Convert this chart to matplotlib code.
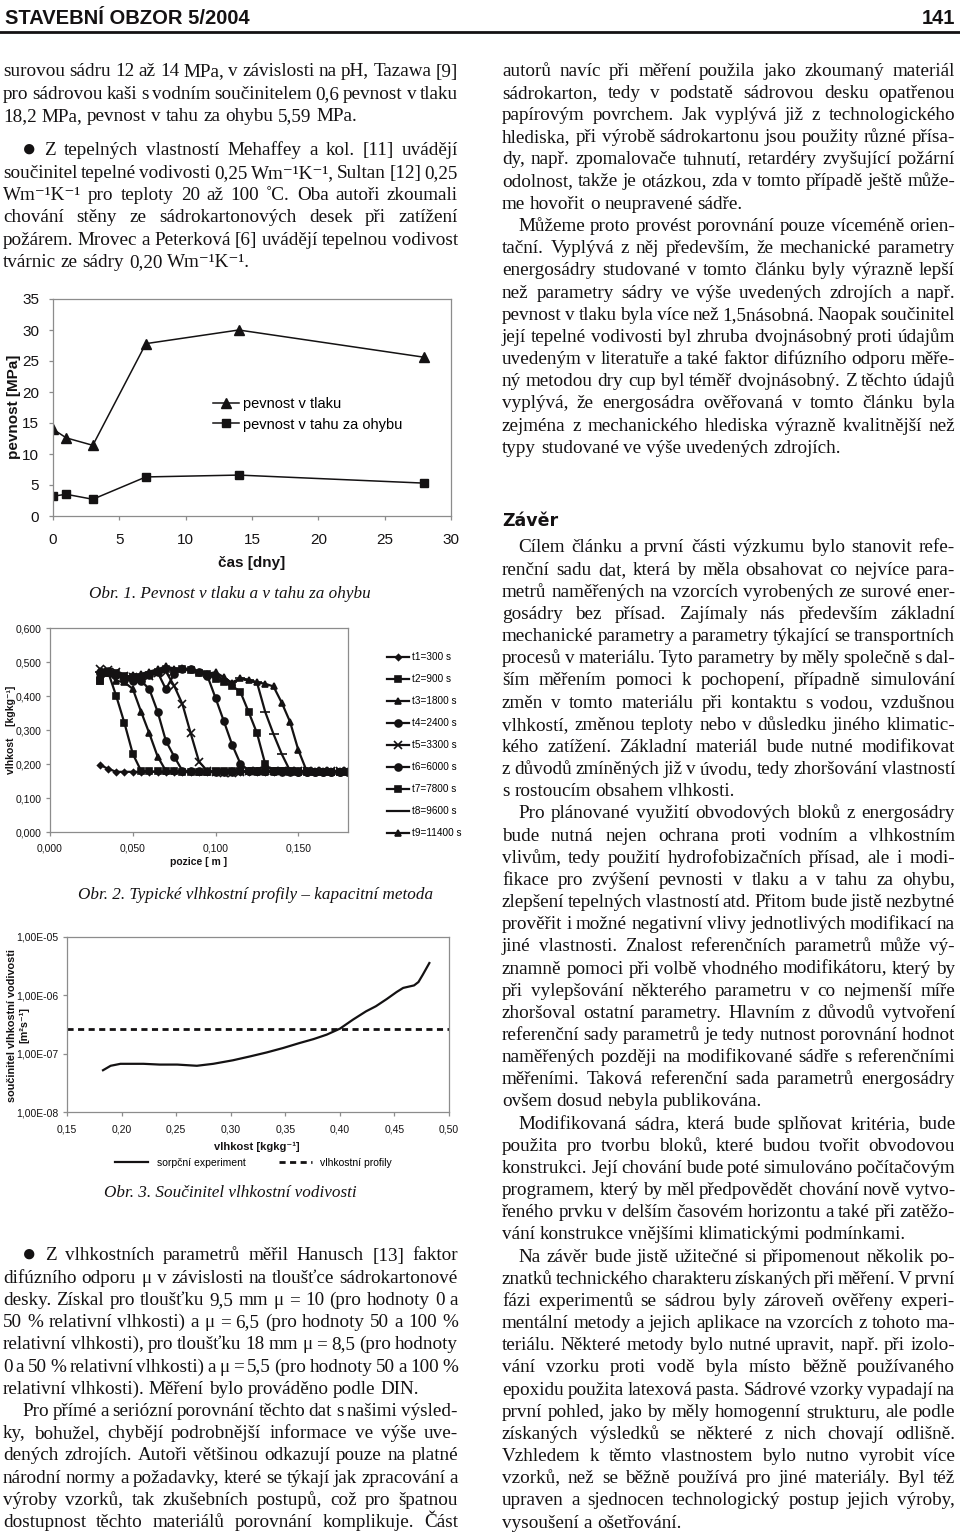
import matplotlib
matplotlib.use("Agg")
import matplotlib.pyplot as plt
from matplotlib.lines import Line2D

W, H = 960, 1535
INK = "#141213"
FRAME = "#8c8c8c"
SERIF = ["Liberation Serif", "DejaVu Serif"]
SANS = ["Liberation Sans", "DejaVu Sans"]

# Obr. 1 - pevnost
cas_dny = [0, 1, 3, 7, 14, 28]
pevnost_tlak = [14.0, 12.6, 11.4, 27.8, 30.0, 25.6]
pevnost_ohyb = [3.2, 3.5, 2.7, 6.3, 6.6, 5.3]

# Obr. 2 - vlhkostni profily
pozice = [0.030, 0.035, 0.040, 0.045, 0.050, 0.055, 0.060, 0.065, 0.070, 0.075,
          0.080, 0.085, 0.090, 0.095, 0.100, 0.105, 0.110, 0.115, 0.120, 0.125,
          0.130, 0.135, 0.140, 0.145, 0.150, 0.155, 0.160, 0.165, 0.170, 0.175, 0.180]
profil_t1 = [0.198, 0.186, 0.177, 0.177, 0.177, 0.177, 0.177, 0.177, 0.177, 0.177,
             0.177, 0.177, 0.177, 0.177, 0.177, 0.177, 0.177, 0.177, 0.177, 0.177,
             0.177, 0.177, 0.177, 0.177, 0.177, 0.177, 0.177, 0.177, 0.177, 0.177, 0.177]
profil_t2 = [0.443, 0.472, 0.400, 0.320, 0.230, 0.180, 0.178, 0.178, 0.178, 0.178,
             0.177, 0.177, 0.177, 0.177, 0.178, 0.178, 0.178, 0.178, 0.178, 0.178,
             0.178, 0.178, 0.178, 0.177, 0.177, 0.177, 0.177, 0.177, 0.177, 0.177, 0.177]
profil_t3 = [0.465, 0.468, 0.445, 0.440, 0.421, 0.354, 0.290, 0.222, 0.180, 0.178,
             0.178, 0.178, 0.177, 0.176, 0.176, 0.177, 0.178, 0.178, 0.178, 0.177,
             0.177, 0.177, 0.178, 0.178, 0.178, 0.178, 0.178, 0.178, 0.178, 0.178, 0.178]
profil_t4 = [0.470, 0.475, 0.462, 0.455, 0.450, 0.445, 0.420, 0.354, 0.268, 0.222,
             0.180, 0.178, 0.178, 0.178, 0.177, 0.177, 0.177, 0.178, 0.178, 0.178,
             0.178, 0.178, 0.178, 0.178, 0.177, 0.177, 0.177, 0.177, 0.177, 0.177, 0.177]
profil_t5 = [0.480, 0.476, 0.470, 0.458, 0.455, 0.452, 0.460, 0.468, 0.472, 0.430,
             0.376, 0.290, 0.207, 0.180, 0.176, 0.175, 0.175, 0.176, 0.180, 0.180,
             0.180, 0.180, 0.180, 0.180, 0.180, 0.180, 0.180, 0.180, 0.180, 0.180, 0.180]
profil_t6 = [0.468, 0.472, 0.465, 0.448, 0.445, 0.455, 0.462, 0.470, 0.420, 0.465,
             0.478, 0.480, 0.470, 0.460, 0.394, 0.326, 0.257, 0.201, 0.180, 0.178,
             0.178, 0.178, 0.177, 0.177, 0.177, 0.177, 0.177, 0.177, 0.177, 0.177, 0.177]
profil_t7 = [0.445, 0.470, 0.468, 0.460, 0.455, 0.450, 0.462, 0.472, 0.480, 0.475,
             0.478, 0.476, 0.468, 0.465, 0.450, 0.440, 0.430, 0.412, 0.353, 0.291,
             0.200, 0.178, 0.178, 0.178, 0.178, 0.178, 0.177, 0.177, 0.177, 0.177, 0.177]
profil_t8 = [0.470, 0.472, 0.465, 0.455, 0.458, 0.462, 0.468, 0.475, 0.482, 0.478,
             0.480, 0.476, 0.470, 0.466, 0.460, 0.448, 0.440, 0.452, 0.448, 0.440,
             0.353, 0.288, 0.229, 0.180, 0.178, 0.178, 0.178, 0.178, 0.178, 0.178, 0.178]
profil_t9 = [0.462, 0.468, 0.462, 0.455, 0.462, 0.465, 0.472, 0.478, 0.488, 0.480,
             0.482, 0.478, 0.470, 0.465, 0.470, 0.455, 0.438, 0.452, 0.446, 0.440,
             0.436, 0.428, 0.380, 0.324, 0.241, 0.180, 0.177, 0.177, 0.177, 0.177, 0.177]
profily = [profil_t1, profil_t2, profil_t3, profil_t4, profil_t5,
           profil_t6, profil_t7, profil_t8, profil_t9]
profil_labels = ["t1=300 s", "t2=900 s", "t3=1800 s", "t4=2400 s", "t5=3300 s",
                 "t6=6000 s", "t7=7800 s", "t8=9600 s", "t9=11400 s"]
profil_markers = ["D", "s", "^", "o", "x", "o", "s", "_", "^"]
profil_msize = [3, 5, 5, 5, 6, 5, 5, 7, 5]

# Obr. 3 - soucinitel vlhkostni vodivosti
vlhkost = [0.183, 0.190, 0.199, 0.220, 0.235, 0.251, 0.269, 0.284, 0.302, 0.318,
           0.333, 0.348, 0.363, 0.376, 0.388, 0.400, 0.412, 0.424, 0.433, 0.443,
           0.452, 0.458, 0.468, 0.472, 0.476, 0.482]
vodivost = [5.2e-8, 6.2e-8, 6.7e-8, 6.7e-8, 6.5e-8, 6.5e-8, 6.2e-8, 6.7e-8, 7.7e-8, 9.0e-8,
            1.05e-7, 1.25e-7, 1.52e-7, 1.78e-7, 2.12e-7, 2.68e-7, 3.83e-7, 5.32e-7, 6.5e-7, 8.65e-7,
            1.14e-6, 1.34e-6, 1.48e-6, 1.69e-6, 2.26e-6, 3.58e-6]
vodivost_profily = 2.68e-7

# page text
left_top = [
    dict(indent=False, lines=[
        "surovou sádru 12 až 14 MPa, v závislosti na pH, Tazawa [9]",
        "pro sádrovou kaši s vodním součinitelem 0,6 pevnost v tlaku",
        "18,2 MPa, pevnost v tahu za ohybu 5,59 MPa."]),
    dict(skip=12, lines=[
        "● Z tepelných vlastností Mehaffey a kol. [11] uvádějí",
        "součinitel tepelné vodivosti 0,25 Wm⁻¹K⁻¹, Sultan [12] 0,25",
        "Wm⁻¹K⁻¹ pro teploty 20 až 100 ˚C. Oba autoři zkoumali",
        "chování stěny ze sádrokartonových desek při zatížení",
        "požárem. Mrovec a Peterková [6] uvádějí tepelnou vodivost",
        "tvárnic ze sádry 0,20 Wm⁻¹K⁻¹."]),
]
left_bottom = [
    dict(lines=[
        "● Z vlhkostních parametrů měřil Hanusch [13] faktor",
        "difúzního odporu μ v závislosti na tloušťce sádrokartonové",
        "desky. Získal pro tloušťku 9,5 mm μ = 10 (pro hodnoty 0 a",
        "50 % relativní vlhkosti) a μ = 6,5 (pro hodnoty 50 a 100 %",
        "relativní vlhkosti), pro tloušťku 18 mm μ = 8,5 (pro hodnoty",
        "0 a 50 % relativní vlhkosti) a μ = 5,5 (pro hodnoty 50 a 100 %",
        "relativní vlhkosti). Měření bylo prováděno podle DIN."]),
    dict(open=True, lines=[
        "Pro přímé a seriózní porovnání těchto dat s našimi výsled-",
        "ky, bohužel, chybějí podrobnější informace ve výše uve-",
        "dených zdrojích. Autoři většinou odkazují pouze na platné",
        "národní normy a požadavky, které se týkají jak zpracování a",
        "výroby vzorků, tak zkušebních postupů, což pro špatnou",
        "dostupnost těchto materiálů porovnání komplikuje. Část"]),
]
right_top = [
    dict(indent=False, lines=[
        "autorů navíc při měření použila jako zkoumaný materiál",
        "sádrokarton, tedy v podstatě sádrovou desku opatřenou",
        "papírovým povrchem. Jak vyplývá již z technologického",
        "hlediska, při výrobě sádrokartonu jsou použity různé přísa-",
        "dy, např. zpomalovače tuhnutí, retardéry zvyšující požární",
        "odolnost, takže je otázkou, zda v tomto případě ještě může-",
        "me hovořit o  neupravené sádře."]),
    dict(lines=[
        "Můžeme proto provést porovnání pouze víceméně orien-",
        "tační. Vyplývá z něj především, že mechanické parametry",
        "energosádry studované v tomto článku byly výrazně lepší",
        "než parametry sádry ve výše uvedených zdrojích a např.",
        "pevnost v tlaku byla více než 1,5násobná. Naopak součinitel",
        "její tepelné vodivosti byl zhruba dvojnásobný proti údajům",
        "uvedeným v literatuře a také faktor difúzního odporu měře-",
        "ný metodou dry cup byl téměř dvojnásobný. Z těchto údajů",
        "vyplývá, že energosádra ověřovaná v tomto článku byla",
        "zejména z mechanického hlediska výrazně kvalitnější než",
        "typy studované ve výše uvedených zdrojích."]),
]
right_bottom = [
    dict(lines=[
        "Cílem článku a první části výzkumu bylo stanovit refe-",
        "renční sadu dat, která by měla obsahovat co nejvíce para-",
        "metrů naměřených na vzorcích vyrobených ze surové ener-",
        "gosádry bez přísad. Zajímaly nás především základní",
        "mechanické parametry a parametry týkající se transportních",
        "procesů v materiálu. Tyto parametry by měly společně s dal-",
        "ším měřením pomoci k pochopení, případně simulování",
        "změn v tomto materiálu při kontaktu s vodou, vzdušnou",
        "vlhkostí,  změnou teploty nebo v důsledku jiného klimatic-",
        "kého zatížení. Základní materiál bude nutné modifikovat",
        "z důvodů zmíněných již v úvodu, tedy zhoršování vlastností",
        "s rostoucím obsahem vlhkosti."]),
    dict(lines=[
        "Pro plánované využití obvodových bloků z energosádry",
        "bude nutná nejen ochrana proti vodním a vlhkostním",
        "vlivům, tedy použití hydrofobizačních přísad, ale i modi-",
        "fikace pro zvýšení pevnosti v tlaku a v tahu za ohybu,",
        "zlepšení tepelných vlastností atd. Přitom bude jistě nezbytné",
        "prověřit i možné negativní vlivy jednotlivých modifikací na",
        "jiné vlastnosti. Znalost referenčních parametrů může vý-",
        "znamně pomoci při volbě vhodného modifikátoru, který by",
        "při vylepšování některého parametru v co nejmenší míře",
        "zhoršoval ostatní parametry. Hlavním z důvodů vytvoření",
        "referenční sady parametrů je tedy nutnost porovnání hodnot",
        "naměřených později na modifikované sádře s referenčními",
        "měřeními. Taková referenční sada parametrů energosádry",
        "ovšem dosud nebyla publikována."]),
    dict(lines=[
        "Modifikovaná sádra, která bude splňovat kritéria, bude",
        "použita pro tvorbu bloků, které budou tvořit obvodovou",
        "konstrukci. Její chování bude poté simulováno počítačovým",
        "programem, který by měl předpovědět chování nově vytvo-",
        "řeného prvku v delším časovém horizontu a také při zatěžo-",
        "vání konstrukce vnějšími klimatickými podmínkami."]),
    dict(lines=[
        "Na závěr bude jistě užitečné si připomenout několik po-",
        "znatků technického charakteru získaných při měření. V první",
        "fázi experimentů se sádrou byly zároveň ověřeny experi-",
        "mentální metody a jejich aplikace na vzorcích z tohoto ma-",
        "teriálu. Některé metody bylo nutné upravit, např. při izolo-",
        "vání vzorku proti vodě byla místo běžně používaného",
        "epoxidu použita latexová pasta. Sádrové vzorky vypadají na",
        "první pohled, jako by měly homogenní strukturu, ale podle",
        "získaných výsledků se některé z nich chovají odlišně.",
        "Vzhledem k těmto vlastnostem bylo nutno vyrobit více",
        "vzorků, než se běžně používá pro jiné materiály. Byl též",
        "upraven a sjednocen technologický postup jejich výroby,",
        "vysoušení a ošetřování."]),
]

fig = plt.figure(figsize=(W / 100, H / 100), dpi=100)
renderer = fig.canvas.get_renderer()


def px_axes(l, t, r, b):
    return fig.add_axes([l / W, 1 - b / H, (r - l) / W, (b - t) / H])


def ptext(x, y, s, **kw):
    kw.setdefault("color", INK)
    return fig.text(x / W, 1 - y / H, s, **kw)


def column(paras, x0, x1, y_first, dy, indent, size=13.8):
    probe = fig.text(0, 0, "x x", fontsize=size, family=SERIF)
    w2 = probe.get_window_extent(renderer).width
    probe.set_text("xx")
    space = w2 - probe.get_window_extent(renderer).width
    probe.remove()
    y = y_first
    for p in paras:
        y += p.get("skip", 0)
        n = len(p["lines"])
        for i, line in enumerate(p["lines"]):
            left = x0 + (indent if i == 0 and p.get("indent", True) else 0)
            just = i < n - 1 or p.get("open", False)
            words = []
            for w in line.split():
                fs = size * 1.25 if w == "●" else size
                words.append(fig.text(0, 0, w, fontsize=fs, family=SERIF,
                                      color=INK, va="baseline"))
            widths = [t.get_window_extent(renderer).width for t in words]
            avail = x1 - left
            gaps = max(len(words) - 1, 1)
            need = sum(widths) + 0.65 * space * (len(words) - 1)
            s = 1.0
            if need > avail:
                s = avail / need
                for t in words:
                    t.set_fontsize(t.get_fontsize() * s)
                widths = [w * s for w in widths]
            gap = (avail - sum(widths)) / gaps if just else space * s
            x = left
            for t, w in zip(words, widths):
                t.set_position((x / W, 1 - (y + 5.5) / H))
                x += w + gap
            y += dy


# header
ptext(5, 18, "STAVEBNÍ OBZOR 5/2004", family=SANS, weight="bold",
      fontsize=14.5, va="center", ha="left")
ptext(955, 18, "141", family=SANS, weight="bold", fontsize=14.5,
      va="center", ha="right")
fig.add_artist(Line2D([0, 1], [1 - 32 / H, 1 - 32 / H], color=INK, lw=2.0,
                      transform=fig.transFigure))

# body text
column(left_top, 3, 458, 71, 22.3, 19)
column(left_bottom, 3, 458, 1255, 22.2, 19)
column(right_top, 502, 955, 70, 22.2, 16)
column(right_bottom, 502, 955, 547, 22.16, 16)
ptext(502, 521, "Závěr", family=["DejaVu Sans"], weight="heavy",
      fontsize=12.5, va="center", ha="left")


def frame(ax):
    for sp in ax.spines.values():
        sp.set_color(FRAME)
        sp.set_linewidth(0.9)
    ax.tick_params(colors=FRAME, labelcolor=INK, direction="out", length=3,
                   width=0.9)


# Obr. 1
ax1 = px_axes(53, 299, 451, 516)
ax1.plot(cas_dny, pevnost_tlak, "-^", color=INK, lw=1.1, ms=6.5,
         label="pevnost v tlaku")
ax1.plot(cas_dny, pevnost_ohyb, "-s", color=INK, lw=1.1, ms=6,
         label="pevnost v tahu za ohybu")
ax1.set_xlim(0, 30)
ax1.set_ylim(0, 35)
ax1.set_xticks(range(0, 31, 5))
ax1.set_yticks(range(0, 36, 5))
frame(ax1)
for lab in ax1.get_xticklabels() + ax1.get_yticklabels():
    lab.set_family(SANS)
    lab.set_fontsize(11)
ax1.tick_params(axis="x", pad=9)
ax1.tick_params(axis="y", pad=7)
ax1.legend(loc="upper left", bbox_to_anchor=(213 / W, 1 - 397 / H),
           bbox_transform=fig.transFigure, frameon=False, borderpad=0,
           borderaxespad=0, handlelength=1.75, handletextpad=0.3,
           labelspacing=0.45, prop=dict(family=SANS, size=10.5))
ptext(252, 563, "čas [dny]", family=SANS, weight="bold", fontsize=11,
      ha="center", va="center")
ptext(14, 407, "pevnost [MPa]", family=SANS, weight="bold", fontsize=11,
      ha="center", va="center", rotation=90)
ptext(230, 594, "Obr. 1. Pevnost v tlaku a v tahu za ohybu", family=SERIF,
      style="italic", fontsize=12.3, ha="center", va="center")

# Obr. 2
ax2 = px_axes(50, 628, 348, 832)
for vals, lab, mk, ms in zip(profily, profil_labels, profil_markers, profil_msize):
    ax2.plot(pozice, vals, "-", marker=mk, color=INK, lw=1.6, ms=ms, mew=1.2,
             label=lab)
ax2.set_xlim(0, 0.18)
ax2.set_ylim(0, 0.6)
ax2.set_xticks([0, 0.05, 0.10, 0.15])
ax2.set_xticklabels(["0,000", "0,050", "0,100", "0,150"])
ax2.set_yticks([0, 0.1, 0.2, 0.3, 0.4, 0.5, 0.6])
ax2.set_yticklabels(["0,000", "0,100", "0,200", "0,300", "0,400", "0,500", "0,600"])
frame(ax2)
for lab in ax2.get_xticklabels() + ax2.get_yticklabels():
    lab.set_family(SANS)
    lab.set_fontsize(7.5)
ax2.tick_params(axis="x", pad=5)
ax2.tick_params(axis="y", pad=3)
ax2.legend(loc="upper left", bbox_to_anchor=(387 / W, 1 - 652 / H),
           bbox_transform=fig.transFigure, frameon=False, borderpad=0,
           borderaxespad=0, handlelength=2.2, handletextpad=0.25,
           labelspacing=1.2, prop=dict(family=SANS, size=7.2))
ptext(199, 862, "pozice [ m ]", family=SANS, weight="bold", fontsize=7.5,
      ha="center", va="center")
ptext(11, 730, "vlhkost    [kgkg⁻¹]", family=SANS, weight="bold", fontsize=7.5,
      ha="center", va="center", rotation=90)
ptext(256, 895, "Obr. 2. Typické vlhkostní profily – kapacitní metoda",
      family=SERIF, style="italic", fontsize=12.3, ha="center", va="center")

# Obr. 3
ax3 = px_axes(67, 937, 449, 1112)
ax3.set_yscale("log")
ax3.plot(vlhkost, vodivost, "-", color=INK, lw=1.6, label="sorpční experiment")
ax3.axhline(vodivost_profily, color=INK, lw=2.0, dashes=(2.2, 1.6),
            label="vlhkostní profily")
ax3.set_xlim(0.15, 0.50)
ax3.set_ylim(1e-8, 1e-5)
ax3.set_xticks([0.15, 0.20, 0.25, 0.30, 0.35, 0.40, 0.45, 0.50])
ax3.set_xticklabels(["0,15", "0,20", "0,25", "0,30", "0,35", "0,40", "0,45", "0,50"])
ax3.set_yticks([1e-8, 1e-7, 1e-6, 1e-5])
ax3.set_yticklabels(["1,00E-08", "1,00E-07", "1,00E-06", "1,00E-05"])
ax3.minorticks_off()
frame(ax3)
for lab in ax3.get_xticklabels() + ax3.get_yticklabels():
    lab.set_family(SANS)
    lab.set_fontsize(7.5)
ax3.tick_params(axis="x", pad=6)
ax3.tick_params(axis="y", pad=3)
ax3.legend(loc="center left", bbox_to_anchor=(115 / W, 1 - 1163 / H),
           bbox_transform=fig.transFigure, frameon=False, ncol=2, borderpad=0,
           borderaxespad=0, handlelength=3.2, handletextpad=0.8,
           columnspacing=3.2, prop=dict(family=SANS, size=7.5))
ptext(257, 1147, "vlhkost [kgkg⁻¹]", family=SANS, weight="bold", fontsize=8,
      ha="center", va="center")
ptext(18, 1025, "součinitel vlhkostní vodivosti\n[m²s⁻¹]", family=SANS,
      weight="bold", fontsize=7.8, ha="center", va="center", rotation=90,
      multialignment="center", linespacing=1.25)
ptext(230, 1193, "Obr. 3. Součinitel vlhkostní vodivosti", family=SERIF,
      style="italic", fontsize=12.3, ha="center", va="center")

fig.savefig("out.png", dpi=100)
